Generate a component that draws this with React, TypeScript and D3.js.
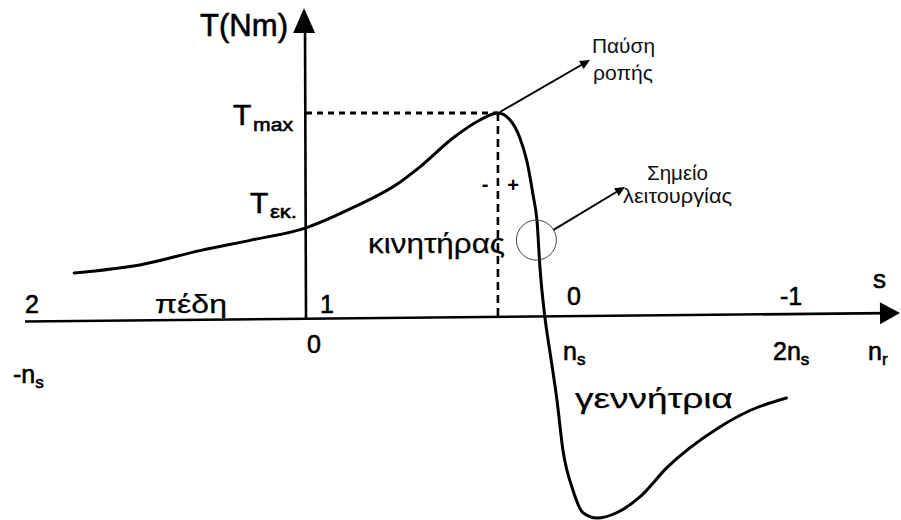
import React from "react";
import * as d3 from "d3";

// Torque–speed characteristic of an induction machine (per-unit values)
// rotor speed n_r / n_s
const speedRatio = [-0.97, -0.69, -0.44, -0.23, 0, 0.18, 0.39, 0.477, 0.615, 0.728, 0.803, 0.854, 0.895, 0.925, 0.95, 0.967, 0.979, 1.0, 1.02, 1.05, 1.075, 1.117, 1.159, 1.218, 1.3, 1.397, 1.51, 1.72, 1.86, 2.01];
// torque T / T_max
const torqueRatio = [0.22, 0.26, 0.33, 0.38, 0.44, 0.53, 0.66, 0.737, 0.878, 0.966, 1.0, 0.966, 0.878, 0.761, 0.6, 0.468, 0.244, 0, -0.16, -0.4, -0.644, -0.84, -0.95, -0.976, -0.95, -0.873, -0.73, -0.54, -0.45, -0.39];

// breakdown (maximum) torque point and operating point
const peakPoint = { nr: 0.803, t: 1.0 };
const operatingPoint = { nr: 0.964, t: 0.38 };

// slip labels above the axis and speed labels below it
const slipValues = [-1, 0, 1, 2];
const slipLabels = ["2", "1", "0", "-1"];
const speedValues = [-1, 0, 1, 2];
const speedMain = ["-n", "0", "n", "2n"];
const speedSub = ["s", "", "s", "s"];

const regionLabels = ["πέδη", "κινητήρας", "γεννήτρια"];
const noteBreakdown = ["Παύση", "ροπής"];
const noteOperating = ["Σημείο", "λειτουργίας"];

const W = 901;
const H = 520;
const FONT = "'Liberation Sans', Arial, sans-serif";

export default function App() {
  const x = d3.scaleLinear().domain([0, 1]).range([306, 545]);
  const y = d3.scaleLinear().domain([-1, 1]).range([523, 113]);

  const pts: [number, number][] = speedRatio.map((v, i) => [v, torqueRatio[i]]);
  const line = d3
    .line<[number, number]>()
    .x((d) => x(d[0]))
    .y((d) => y(d[1]))
    .curve(d3.curveMonotoneX);

  // slightly sloped horizontal axis
  const ax0 = 25, ax1 = 900, ay0 = 321.5, ay1 = 313;
  const axisY = (px: number) => ay0 + ((ay1 - ay0) * (px - ax0)) / (ax1 - ax0);
  const yAxisX = x(0);

  const px = x(peakPoint.nr);
  const py = y(peakPoint.t);
  const ox = x(operatingPoint.nr);
  const oy = y(operatingPoint.t);
  const r = 20;

  // label placement relative to tick positions
  const slipLayout = [
    { dx: -42, y: 313 },
    { dx: 14, y: 313 },
    { dx: 22, y: 305 },
    { dx: -4, y: 305 },
  ];
  const speedLayout = [
    { dx: -54, y: 383 },
    { dx: 1, y: 353 },
    { dx: 18, y: 360 },
    { dx: -11, y: 360 },
  ];

  const arrowHead = (x1: number, y1: number, x2: number, y2: number, len: number, half: number) => {
    const a = Math.atan2(y2 - y1, x2 - x1);
    const bx = x2 - len * Math.cos(a);
    const by = y2 - len * Math.sin(a);
    const nx = -Math.sin(a) * half;
    const ny = Math.cos(a) * half;
    return `M${x2},${y2}L${bx + nx},${by + ny}L${bx - nx},${by - ny}Z`;
  };

  // annotation leader lines
  const n1 = { x1: px + 2, y1: py - 1, x2: 590, y2: 60 };
  const ang = Math.atan2(187 - oy, 625 - ox);
  const n2 = { x1: ox + r * Math.cos(ang), y1: oy + r * Math.sin(ang), x2: 625, y2: 187 };

  const scanText = { fill: "#000", stroke: "#000", strokeWidth: 0.6, fontFamily: FONT };
  const regionText = { fill: "#000", stroke: "#000", strokeWidth: 0.25, fontFamily: FONT };

  return (
    <svg
      width={W}
      height={H}
      viewBox={`0 0 ${W} ${H}`}
      style={{ position: "absolute", left: 0, top: 0, background: "#fff" }}
    >
      <rect width={W} height={H} fill="#fff" />

      {/* axes */}
      <line x1={ax0} y1={ay0} x2={ax1 - 14} y2={axisY(ax1 - 14)} stroke="#000" strokeWidth={2.6} />
      <path d={arrowHead(ax0, ay0, ax1, ay1, 20, 11)} fill="#000" />
      <line x1={yAxisX} y1={axisY(yAxisX)} x2={yAxisX - 1} y2={24} stroke="#000" strokeWidth={2.6} />
      <path d={arrowHead(yAxisX, axisY(yAxisX), yAxisX - 2, 8, 25, 11)} fill="#000" />

      {/* guides to the maximum torque point */}
      <line x1={yAxisX} y1={py} x2={px} y2={py} stroke="#000" strokeWidth={3} strokeDasharray="6 5" />
      <line x1={px} y1={py} x2={px} y2={axisY(px)} stroke="#000" strokeWidth={2.6} strokeDasharray="8 5" />

      {/* characteristic curve */}
      <path d={line(pts) || ""} fill="none" stroke="#000" strokeWidth={3} strokeLinejoin="round" strokeLinecap="round" />

      {/* operating point marker */}
      <circle cx={ox} cy={oy} r={r} fill="none" stroke="#444" strokeWidth={1} />

      {/* annotation arrows */}
      <line x1={n1.x1} y1={n1.y1} x2={n1.x2 - 7} y2={n1.y2 + 4} stroke="#000" strokeWidth={2} />
      <path d={arrowHead(n1.x1, n1.y1, n1.x2, n1.y2, 10, 4.5)} fill="#000" />
      <line x1={n2.x1} y1={n2.y1} x2={n2.x2 - 7} y2={n2.y2 + 4} stroke="#000" strokeWidth={2} />
      <path d={arrowHead(n2.x1, n2.y1, n2.x2, n2.y2, 10, 4.5)} fill="#000" />

      {/* axis titles */}
      <text x={200} y={36} fontSize={31} textLength={88} lengthAdjust="spacingAndGlyphs" {...scanText}>
        T(Nm)
      </text>
      <text x={873} y={288} fontSize={26} {...scanText}>s</text>
      <text x={868} y={360} fontSize={25} {...scanText}>
        n<tspan fontSize={17} dy={5}>r</tspan>
      </text>

      {/* torque markers */}
      <text x={233} y={125} fontSize={30} {...scanText}>T</text>
      <text x={253} y={131} fontSize={19} textLength={40} lengthAdjust="spacingAndGlyphs" {...scanText}>max</text>
      <text x={250} y={213} fontSize={30} {...scanText}>T</text>
      <text x={270} y={218} fontSize={19} textLength={27} lengthAdjust="spacingAndGlyphs" {...scanText}>εκ.</text>

      {/* slip labels */}
      {slipValues.map((v, i) => (
        <text key={"s" + i} x={x(v) + slipLayout[i].dx} y={slipLayout[i].y} fontSize={25} {...scanText}>
          {slipLabels[i]}
        </text>
      ))}

      {/* speed labels */}
      {speedValues.map((v, i) => (
        <text key={"n" + i} x={x(v) + speedLayout[i].dx} y={speedLayout[i].y} fontSize={25} {...scanText}>
          {speedMain[i]}
          {speedSub[i] && (
            <tspan fontSize={17} dy={5}>
              {speedSub[i]}
            </tspan>
          )}
        </text>
      ))}

      {/* operating regions */}
      <text x={155} y={313} fontSize={26} textLength={72} lengthAdjust="spacingAndGlyphs" {...regionText}>
        {regionLabels[0]}
      </text>
      <text x={368} y={253} fontSize={28} textLength={137} lengthAdjust="spacingAndGlyphs" {...regionText}>
        {regionLabels[1]}
      </text>
      <text x={575} y={408} fontSize={28} textLength={158} lengthAdjust="spacingAndGlyphs" {...regionText}>
        {regionLabels[2]}
      </text>

      {/* sign of slip around the maximum */}
      <text x={485} y={191} fontSize={20} textAnchor="middle" fontWeight="bold" fontFamily={FONT}>-</text>
      <text x={513} y={192} fontSize={20} textAnchor="middle" fontWeight="bold" fontFamily={FONT}>+</text>

      {/* notes */}
      <g fontFamily={FONT} fontSize={20} fill="#111">
        <text x={592} y={53} textLength={63} lengthAdjust="spacingAndGlyphs">{noteBreakdown[0]}</text>
        <text x={593} y={80} textLength={60} lengthAdjust="spacingAndGlyphs">{noteBreakdown[1]}</text>
        <text x={647} y={180} textLength={61} lengthAdjust="spacingAndGlyphs">{noteOperating[0]}</text>
        <text x={623} y={203} textLength={109} lengthAdjust="spacingAndGlyphs">{noteOperating[1]}</text>
      </g>
    </svg>
  );
}
